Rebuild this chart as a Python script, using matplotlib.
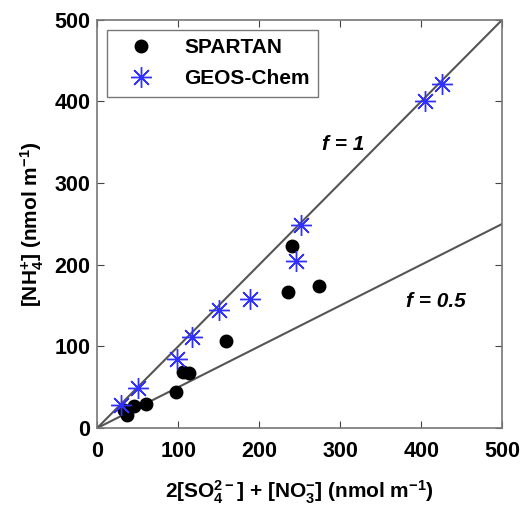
import numpy as np
from matplotlib import pyplot as plt

# SPARTAN observations
spartan_x = [33, 37, 45, 60, 97.5, 106, 113, 159, 236, 240, 274]
spartan_y = [22, 16, 26.5, 30, 44, 69, 67, 107, 166.5, 223, 173.5]

# GEOS-Chem simulation
geos_x = [29, 51, 99, 117, 151, 189, 246, 252, 405, 426]
geos_y = [28.5, 49, 84, 112, 145, 158, 205, 248.6, 401, 421.6]

ticks = [0, 100, 200, 300, 400, 500]


def main():
    plt.rcParams['font.family'] = 'Liberation Sans'
    plt.rcParams['font.weight'] = 'bold'
    plt.rcParams['axes.labelweight'] = 'bold'
    plt.rcParams['mathtext.fontset'] = 'custom'
    plt.rcParams['mathtext.rm'] = 'Liberation Sans:bold'
    plt.rcParams['mathtext.it'] = 'Liberation Sans:bold:italic'
    plt.rcParams['mathtext.bf'] = 'Liberation Sans:bold'
    plt.rcParams['mathtext.default'] = 'rm'

    fig = plt.figure(figsize=(5.28, 5.09), dpi=100)
    ax = fig.add_axes([0.184, 0.159, 0.767, 0.802])

    line = np.array([0, 500])
    ax.plot(line, line, color='#555555', lw=1.5, zorder=1)
    ax.plot(line, 0.5 * line, color='#555555', lw=1.5, zorder=1)

    ax.plot(spartan_x, spartan_y, 'o', color='black', ms=9,
            label='SPARTAN', zorder=3)
    ax.plot(geos_x, geos_y, linestyle='none', marker=(8, 2, 0),
            color='#3030ff', ms=15, mew=1, label='GEOS-Chem', zorder=4)

    ax.text(304, 347, 'f = 1', fontsize=15, fontstyle='italic',
            ha='center', va='center')
    ax.text(418, 155, 'f = 0.5', fontsize=15, fontstyle='italic',
            ha='center', va='center')

    ax.set_xlim(0, 500)
    ax.set_ylim(0, 500)
    ax.set_xticks(ticks)
    ax.set_yticks(ticks)
    ax.tick_params(direction='in', top=True, right=True, length=5,
                   labelsize=15.5, color='#444444')
    ax.tick_params(axis='x', pad=9)
    ax.tick_params(axis='y', pad=5)
    for s in ax.spines.values():
        s.set_color('#777777')
        s.set_linewidth(1.2)

    ax.set_xlabel(r'2[SO$_4^{2-}$] + [NO$_3^{-}$] (nmol m$^{-1}$)',
                  fontsize=15, labelpad=12)
    ax.set_ylabel(r'[NH$_4^{+}$] (nmol m$^{-1}$)', fontsize=15, labelpad=6)

    leg = ax.legend(loc='upper left', fontsize=15, frameon=True,
                    fancybox=False, edgecolor='#555555', borderpad=0.4,
                    handletextpad=0.9, handlelength=2.4, labelspacing=0.6,
                    borderaxespad=0, bbox_to_anchor=(0.025, 0.976))
    leg.get_frame().set_linewidth(1.0)

    fig.savefig('out.png', dpi=100)


if __name__ == "__main__":
    main()
